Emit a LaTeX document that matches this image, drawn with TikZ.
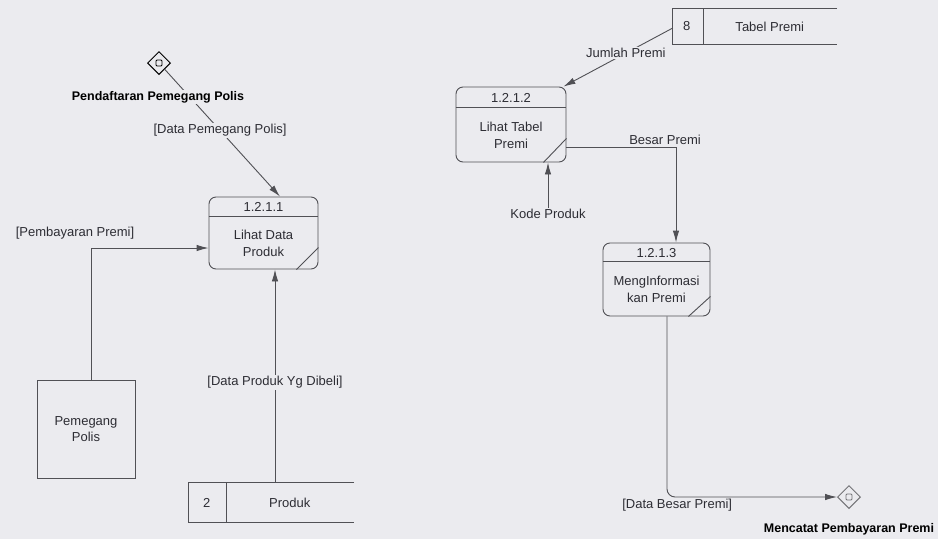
\documentclass[tikz,border=0pt]{standalone}
\usepackage{fontspec}
\setmainfont{Liberation Sans}
\usetikzlibrary{arrows.meta, positioning, calc, shapes.geometric}
\definecolor{scanbg}{RGB}{235,235,239}
\definecolor{inkgray}{RGB}{80,80,85}
\definecolor{txtgray}{RGB}{45,45,52}

\begin{document}
\begin{tikzpicture}[x=1pt, y=-1pt,
    process/.style = {rectangle, draw=inkgray, line width=0.9pt, rounded corners=7pt, inner sep=0pt},
    partline/.style = {draw=inkgray, line width=0.9pt},
    ptext/.style = {align=center, font=\fontsize{13}{17}\selectfont, text=txtgray, inner sep=0pt},
    entity/.style = {rectangle, draw=inkgray, line width=0.9pt, minimum width=98pt, minimum height=98pt, align=center, font=\fontsize{13}{16}\selectfont, text=txtgray},
    store/.style = {rectangle, inner sep=0pt},
    lbl/.style = {font=\fontsize{13}{15}\selectfont, text=txtgray, fill=scanbg, inner sep=1.5pt},
    terminal/.style = {diamond, aspect=1, minimum size=23pt, inner sep=0pt, line width=1pt},
    termlbl/.style = {font=\bfseries\fontsize{12.5}{14}\selectfont, fill=scanbg, inner sep=1pt},
    flow/.style = {draw=inkgray, line width=0.9pt, -{Latex[length=12pt, width=6.5pt]}}
]
\path [use as bounding box, fill=scanbg] (0,0) rectangle (938,539);

% Processes
\node (p1) [process, minimum width=109pt, minimum height=72pt] at (263.5,233) {};
\node (p1id) [ptext] at ($(p1.north)+(0,10)$) {1.2.1.1};
\node (p1txt) [ptext] at ($(p1.center)+(0,10)$) {Lihat Data\\Produk};
\draw [partline] ($(p1.north west)+(0,20)$) -- ($(p1.north east)+(0,20)$);
\draw [partline] ($(p1.south east)+(-22,0)$) -- ($(p1.south east)+(0,-22)$);

\node (p2) [process, minimum width=110pt, minimum height=75pt] at (511,124.5) {};
\node (p2id) [ptext] at ($(p2.north)+(0,11)$) {1.2.1.2};
\node (p2txt) [ptext] at ($(p2.center)+(0,10.5)$) {Lihat Tabel\\Premi};
\draw [partline] ($(p2.north west)+(0,21)$) -- ($(p2.north east)+(0,21)$);
\draw [partline] ($(p2.south east)+(-23,0)$) -- ($(p2.south east)+(0,-24)$);

\node (p3) [process, minimum width=107pt, minimum height=73pt] at (656.5,279.5) {};
\node (p3id) [ptext] at ($(p3.north)+(0,10)$) {1.2.1.3};
\node (p3txt) [ptext] at ($(p3.center)+(0,10)$) {MengInformasi\\kan Premi};
\draw [partline] ($(p3.north west)+(0,19)$) -- ($(p3.north east)+(0,19)$);
\draw [partline] ($(p3.south east)+(-22,0)$) -- ($(p3.south east)+(0,-20)$);

% External entity
\node (pp) [entity] at (86,429) {Pemegang\\Polis};

% Data stores (open on the right)
\node (s1) [store, minimum width=165pt, minimum height=39pt] at (271.5,502.5) {};
\draw [partline] (s1.north east) -- (s1.north west) -- (s1.south west) -- (s1.south east);
\draw [partline] ($(s1.north west)+(38,0)$) -- ($(s1.south west)+(38,0)$);
\node (s1id) [ptext] at ($(s1.west)+(18,0)$) {2};
\node (s1txt) [ptext] at ($(s1.west)+(101,0)$) {Produk};

\node (s2) [store, minimum width=164pt, minimum height=35pt] at (755,26.5) {};
\draw [partline] (s2.north east) -- (s2.north west) -- (s2.south west) -- (s2.south east);
\draw [partline] ($(s2.north west)+(31,0)$) -- ($(s2.south west)+(31,0)$);
\node (s2id) [ptext] at ($(s2.west)+(14,0)$) {8};
\node (s2txt) [ptext] at ($(s2.west)+(97,0)$) {Tabel Premi};

% Terminals
\node (d1) [terminal, draw=black] at (159,63) {};
\node (d1in) [rectangle, draw=black, line width=0.9pt, rounded corners=1pt, minimum size=6pt, inner sep=0pt] at (d1) {};
\node (d2) [terminal, draw=inkgray!80] at (849,497) {};
\node (d2in) [rectangle, draw=inkgray!80, line width=0.9pt, rounded corners=1pt, minimum size=6pt, inner sep=0pt] at (d2) {};

% Free label
\node (kp) [lbl] at (548,214) {Kode Produk};

% Flows
\draw [flow] (d1) -- node[lbl, pos=0.48]{[Data Pemegang Polis]} ([xshift=16.5pt]p1.north);
\node (d1lbl) [termlbl] at (158,97) {Pendaftaran Pemegang Polis};

\draw [flow] ([xshift=5pt]pp.north) |- node[lbl, pos=0.5, xshift=-16pt, yshift=15pt]{[Pembayaran Premi]} ([yshift=-15pt]p1.west);

\draw [flow] ([xshift=3.5pt]s1.north) -- node[lbl, pos=0.47]{[Data Produk Yg Dibeli]} ([xshift=11.5pt]p1.south);

\draw [flow] ([yshift=-1.5pt]s2.west) -- node[lbl, pos=0.43]{Jumlah Premi} ([xshift=-3pt]p2.north east);

\draw [flow] (kp.north) -- (p2.south -| kp.north);

\draw [flow] ([yshift=-22.5pt]p2.east) -| node[lbl, pos=0.45, above, fill=none]{Besar Premi} ([xshift=19.5pt]p3.north);

\draw [flow, rounded corners=8pt] ([xshift=10.5pt]p3.south) |- node[lbl, pos=0.53, below, fill=none]{[Data Besar Premi]} (d2);
\node (d2lbl) [termlbl, below=13pt of d2] {Mencatat Pembayaran Premi};

\end{tikzpicture}
\end{document}
